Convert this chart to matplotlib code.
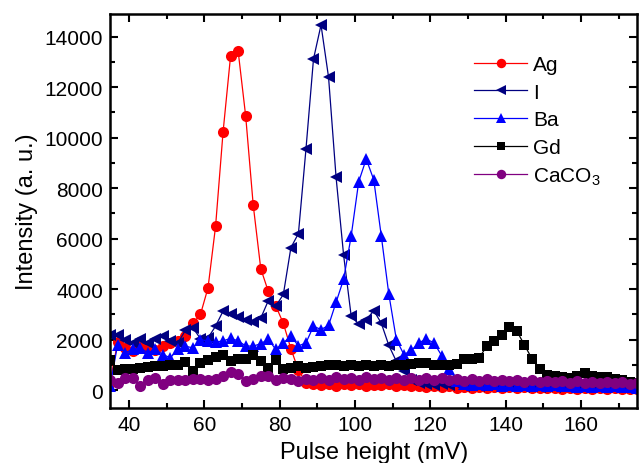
import matplotlib
matplotlib.use("Agg")
import matplotlib.pyplot as plt
from matplotlib.ticker import MultipleLocator

plt.rcParams["font.family"] = ["Liberation Sans", "DejaVu Sans"]
plt.rcParams["mathtext.fontset"] = "custom"
plt.rcParams["mathtext.rm"] = "Liberation Sans"
plt.rcParams["mathtext.it"] = "Liberation Sans"

# Pulse height channels (mV)
pulse_height = [35, 37, 39, 41, 43, 45, 47, 49, 51, 53, 55, 57, 59, 61, 63, 65, 67, 69,
                71, 73, 75, 77, 79, 81, 83, 85, 87, 89, 91, 93, 95, 97, 99, 101, 103, 105,
                107, 109, 111, 113, 115, 117, 119, 121, 123, 125, 127, 129, 131, 133, 135,
                137, 139, 141, 143, 145, 147, 149, 151, 153, 155, 157, 159, 161, 163, 165,
                167, 169, 171, 173, 175]

ag = [300, 1900, 1650, 1550, 1750, 1650, 1600, 1750, 1850, 1950, 2150, 2640, 3000, 4050,
      6480, 10230, 13250, 13420, 10850, 7330, 4810, 3910, 3330, 2640, 1640, 790, 300, 230,
      200, 250, 180, 230, 200, 250, 180, 220, 200, 240, 180, 200, 150, 180, 130, 160, 120,
      150, 100, 140, 100, 130, 90, 120, 80, 110, 80, 110, 70, 100, 70, 90, 60, 90, 60, 80,
      50, 80, 50, 70, 50, 60, 40]

iodine = [2200, 2200, 2000, 1870, 2030, 1870, 2030, 2130, 1940, 1870, 2370, 2470, 2030, 2070,
          2530, 3130, 3000, 2900, 2790, 2700, 2850, 3540, 3330, 3790, 5640, 6200, 9540, 13110,
          14460, 12390, 8420, 5340, 2940, 2610, 2780, 3150, 2650, 1770, 1140, 750, 420, 300,
          260, 220, 260, 200, 240, 180, 220, 170, 210, 160, 200, 150, 190, 140, 180, 130, 170,
          130, 160, 120, 160, 120, 150, 110, 150, 110, 140, 100, 130]

ba = [150, 1800, 1480, 1610, 1670, 1480, 1610, 1410, 1280, 1610, 1740, 1670, 2000, 1940,
      1900, 1950, 2050, 1950, 1750, 1740, 1840, 2010, 1610, 1870, 2140, 1750, 1870, 2530,
      2400, 2560, 3480, 4390, 6100, 8250, 9150, 8330, 6100, 3800, 2000, 1410, 1570, 1880,
      2020, 1870, 1370, 830, 380, 250, 200, 240, 190, 230, 180, 220, 170, 210, 160, 200, 150,
      190, 150, 180, 140, 170, 130, 160, 120, 150, 110, 140, 100]

gd = [1200, 800, 850, 850, 880, 900, 950, 950, 1000, 1000, 1100, 750, 1080, 1200, 1300, 1400,
      1150, 1250, 1250, 1400, 1150, 880, 1210, 850, 880, 950, 880, 900, 950, 1000, 1000, 960,
      1000, 950, 1000, 970, 1000, 950, 1000, 1000, 1050, 1080, 1080, 1010, 1010, 1010, 1050,
      1240, 1250, 1280, 1740, 1940, 2200, 2510, 2330, 1790, 1240, 830, 580, 570, 520, 480,
      550, 660, 550, 520, 520, 450, 390, 310, 280]

caco3 = [420, 280, 480, 490, 180, 420, 490, 260, 420, 400, 420, 430, 440, 390, 440, 550, 710,
         620, 350, 450, 540, 550, 420, 480, 450, 380, 450, 400, 480, 420, 500, 430, 480, 420,
         500, 430, 480, 420, 470, 410, 480, 420, 460, 400, 460, 390, 440, 380, 440, 380, 430,
         370, 420, 360, 400, 340, 390, 330, 380, 320, 370, 300, 350, 290, 340, 280, 320, 270,
         310, 260, 290]

series = [
    ("Ag", ag, "#FF0000", "o", 8.0),
    ("I", iodine, "#000080", "<", 9.0),
    ("Ba", ba, "#0000FF", "^", 9.0),
    ("Gd", gd, "#000000", "s", 7.0),
    ("CaCO$_3$", caco3, "#800080", "o", 8.0),
]

fig = plt.figure(figsize=(6.4, 4.64), dpi=100)
ax = fig.add_axes([0.172, 0.119, 0.824, 0.849])

for label, values, color, marker, ms in series:
    ax.plot(pulse_height, values, color=color, marker=marker, markersize=ms,
            linewidth=0.9, markeredgewidth=0, label=label)

ax.set_xlim(35, 175)
ax.set_ylim(-700, 14900)
ax.xaxis.set_major_locator(MultipleLocator(20))
ax.xaxis.set_minor_locator(MultipleLocator(10))
ax.yaxis.set_major_locator(MultipleLocator(2000))
ax.yaxis.set_minor_locator(MultipleLocator(1000))

ax.tick_params(which="both", direction="in", top=True, right=True, width=1.5)
ax.tick_params(which="major", length=6, labelsize=15, pad=5)
ax.tick_params(which="minor", length=3.5)
for s in ax.spines.values():
    s.set_linewidth(1.8)

ax.set_xlabel("Pulse height (mV)", fontsize=17, labelpad=5)
ax.set_ylabel("Intensity (a. u.)", fontsize=17, labelpad=5)

ax.legend(loc="upper left", bbox_to_anchor=(0.691, 0.895), frameon=False, fontsize=15,
          handlelength=2.5, handletextpad=0.3, labelspacing=0.41, borderpad=0,
          borderaxespad=0, markerscale=0.85)

fig.savefig("out.png", dpi=100)
